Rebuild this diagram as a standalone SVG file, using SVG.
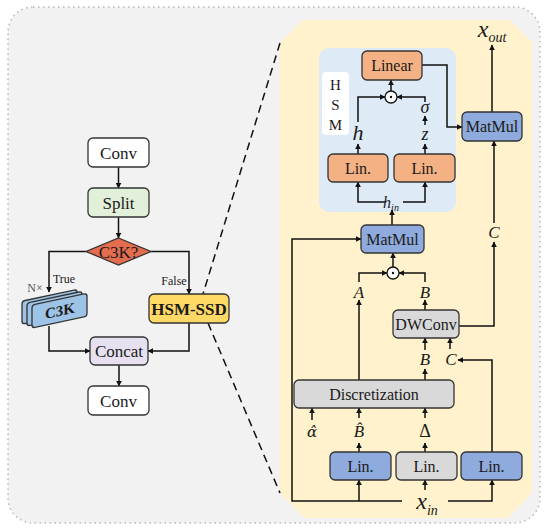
<svg xmlns="http://www.w3.org/2000/svg" width="550" height="531" viewBox="0 0 550 531">
<style>
.box{stroke:#333;stroke-width:1.3}
.t{font-family:"Liberation Serif","Times New Roman",serif;fill:#1a1a1a;text-anchor:middle}
.m{font-family:"Liberation Serif","Times New Roman",serif;fill:#1a1a1a;font-style:italic;text-anchor:middle}
.c{fill:none;stroke:#111;stroke-width:1.5}
.a{marker-end:url(#ah)}
</style>
<defs>
<marker id="ah" viewBox="0 0 10 10" refX="9" refY="5" markerWidth="6" markerHeight="6" markerUnits="userSpaceOnUse" orient="auto">
<path d="M0 0 L10 5 L0 10 Z" fill="#111"/>
</marker>
</defs>
<g id="background">
<rect x="8" y="7" width="532" height="516" rx="25" fill="#f2f2f2" stroke="#b8b8b8" stroke-width="1.5" stroke-dasharray="1.5 3.5"/>
<polygon points="303,20 510,20 532,42 532,493 508,518 305,518 280,493 280,43" fill="#fff2cc"/>
<rect x="319" y="48" width="137" height="164" rx="10" fill="#deebf7"/>
</g>
<g id="dashes">
<path d="M280 43 L203 294" fill="none" stroke="#111" stroke-width="1.5" stroke-dasharray="8 5"/>
<path d="M208 323 L280 493" fill="none" stroke="#111" stroke-width="1.5" stroke-dasharray="8 5"/>
</g>
<g id="connectors">
<path class="c a" d="M118.5 167 V188"/>
<path class="c a" d="M118.5 217 V238"/>
<path class="c a" d="M86 251.5 H49 V292"/>
<path class="c a" d="M151 251.5 H189 V294"/>
<path class="c a" d="M49 326 V351 H90"/>
<path class="c a" d="M189 323 V351 H148"/>
<path class="c a" d="M119 365 V386"/>
<path class="c a" d="M422 65 H447 V127 H462"/>
<path class="c a" d="M391 91 V80"/>
<path class="c a" d="M358 122 V97 H385"/>
<path class="c a" d="M425 102 V97 H397"/>
<path class="c a" d="M425 125 V116"/>
<path class="c a" d="M358 154 V144"/>
<path class="c a" d="M425 154 V144"/>
<path class="c a" d="M385 202 H358 V182"/>
<path class="c a" d="M403 202 H425 V182"/>
<path class="c a" d="M392 225 V210"/>
<path class="c a" d="M492 112 V45"/>
<path class="c a" d="M494 223 V141"/>
<path class="c a" d="M459 326 H494 V242"/>
<path class="c a" d="M393 267 V253"/>
<path class="c a" d="M359 282 V273 H387"/>
<path class="c a" d="M425 282 V273 H399"/>
<path class="c a" d="M425 310 V300"/>
<path class="c a" d="M425 350 V338"/>
<path class="c a" d="M450 349 V338"/>
<path class="c a" d="M492 452 V360 H458"/>
<path class="c a" d="M425 380 V369"/>
<path class="c a" d="M359 380 V300"/>
<path class="c a" d="M312 420 V408"/>
<path class="c a" d="M359 418 V408"/>
<path class="c a" d="M425 418 V408"/>
<path class="c a" d="M359 452 V443"/>
<path class="c a" d="M425 452 V443"/>
<path class="c a" d="M402 501 H292 V239 H361"/>
<path class="c a" d="M448 501 H492 V480"/>
<path class="c a" d="M359 501 V480"/>
<path class="c a" d="M425 490 V480"/>
</g>
<g id="conv1"><rect class="box" x="88" y="138" width="61" height="29" rx="5" fill="#fff"/><text class="t" x="118.5" y="158.5" font-size="17">Conv</text></g>
<g id="split"><rect class="box" x="88" y="188" width="61" height="29" rx="5" fill="#e2f0d9"/><text class="t" x="118.5" y="208.5" font-size="17">Split</text></g>
<g id="c3kq"><polygon class="box" points="118.5,238 151,251.5 118.5,265 86,251.5" fill="#e46c4f"/><text class="t" x="118.5" y="257.5" font-size="17">C3K?</text></g>
<g id="labels-left">
<text class="t" x="64" y="283" font-size="12">True</text>
<text class="t" x="174" y="285" font-size="12">False</text>
<text class="t" x="35" y="292" font-size="12" style="fill:#555">N×</text>
</g>
<g id="c3k" transform="skewY(-12)">
<rect class="box" x="22" y="305.8" width="55" height="23" rx="3" fill="#9dc3e6"/>
<rect class="box" x="27" y="308.8" width="55" height="23" rx="3" fill="#9dc3e6"/>
<rect class="box" x="32" y="311.8" width="55" height="23" rx="3" fill="#9dc3e6"/>
<text class="t" x="60" y="328.5" font-size="15" font-weight="bold">C3K</text>
</g>
<g id="hsmssd"><rect class="box" x="149" y="294" width="80" height="29" rx="5" fill="#ffd966"/><text class="t" x="189" y="314.5" font-size="17" font-weight="bold">HSM-SSD</text></g>
<g id="concat"><rect class="box" x="90" y="337" width="58" height="28" rx="5" fill="#e6e0f0"/><text class="t" x="119" y="357" font-size="17">Concat</text></g>
<g id="conv2"><rect class="box" x="88" y="386" width="61" height="29" rx="5" fill="#fff"/><text class="t" x="118.5" y="406.5" font-size="17">Conv</text></g>
<g id="hsm-label"><rect x="322" y="72" width="27" height="63" rx="4" fill="#fff"/>
<text class="t" x="335.5" y="90" font-size="15">H</text>
<text class="t" x="335.5" y="110" font-size="15">S</text>
<text class="t" x="335.5" y="130" font-size="15">M</text></g>
<g id="linear"><rect class="box" x="362" y="51" width="60" height="29" rx="5" fill="#f4b183"/><text class="t" x="392" y="71" font-size="16">Linear</text></g>
<g id="odot1"><circle cx="391" cy="97" r="6" fill="#fff" stroke="#111" stroke-width="1.3"/><circle cx="391" cy="97" r="1.2" fill="#111"/></g>
<g id="lin-h"><rect class="box" x="328" y="154" width="60" height="28" rx="5" fill="#f4b183"/><text class="t" x="358" y="173.5" font-size="16">Lin.</text></g>
<g id="lin-z"><rect class="box" x="394" y="154" width="61" height="28" rx="5" fill="#f4b183"/><text class="t" x="424.5" y="173.5" font-size="16">Lin.</text></g>
<g id="hsm-vars">
<text class="m" x="358" y="140" font-size="22">h</text>
<text class="m" x="425" y="113" font-size="18">σ</text>
<text class="m" x="425" y="140" font-size="18">z</text>
<text class="m" x="391" y="208" font-size="16">h<tspan font-size="10" dy="3">in</tspan></text>
</g>
<g id="matmul-top"><rect class="box" x="462" y="112" width="60" height="29" rx="5" fill="#8faadc"/><text class="t" x="492" y="132" font-size="16">MatMul</text></g>
<g id="xout"><text class="m" x="492" y="37" font-size="24">x<tspan font-size="14" dy="5">out</tspan></text></g>
<g id="matmul-bot"><rect class="box" x="361" y="225" width="63" height="28" rx="5" fill="#8faadc"/><text class="t" x="392.5" y="244.5" font-size="16">MatMul</text></g>
<g id="odot2"><circle cx="393" cy="273" r="6" fill="#fff" stroke="#111" stroke-width="1.3"/><circle cx="393" cy="273" r="1.2" fill="#111"/></g>
<g id="ssd-vars">
<text class="m" x="359" y="298" font-size="17">A</text>
<text class="m" x="425" y="298" font-size="17">B</text>
<text class="m" x="494" y="238" font-size="17">C</text>
<text class="m" x="425" y="365" font-size="17">B</text>
<text class="m" x="451" y="365" font-size="17">C</text>
<text class="m" x="312" y="437" font-size="15" style="font-family:'DejaVu Serif',serif">α̂</text>
<text class="m" x="359" y="437" font-size="17">B̂</text>
<text class="t" x="425" y="437" font-size="18">Δ</text>
</g>
<g id="dwconv"><rect class="box" x="393" y="310" width="66" height="28" rx="5" fill="#d9d9d9"/><text class="t" x="426" y="329.5" font-size="16">DWConv</text></g>
<g id="discretization"><rect class="box" x="294" y="380" width="160" height="28" rx="5" fill="#d9d9d9"/><text class="t" x="374" y="399.5" font-size="16">Discretization</text></g>
<g id="lin1"><rect class="box" x="330" y="452" width="61" height="28" rx="5" fill="#8faadc"/><text class="t" x="360.5" y="471.5" font-size="16">Lin.</text></g>
<g id="lin2"><rect class="box" x="396" y="452" width="61" height="28" rx="5" fill="#d9d9d9"/><text class="t" x="426.5" y="471.5" font-size="16">Lin.</text></g>
<g id="lin3"><rect class="box" x="461" y="452" width="61" height="28" rx="5" fill="#8faadc"/><text class="t" x="491.5" y="471.5" font-size="16">Lin.</text></g>
<g id="xin"><text class="m" x="427" y="509" font-size="24">x<tspan font-size="14" dy="6">in</tspan></text></g>
</svg>
